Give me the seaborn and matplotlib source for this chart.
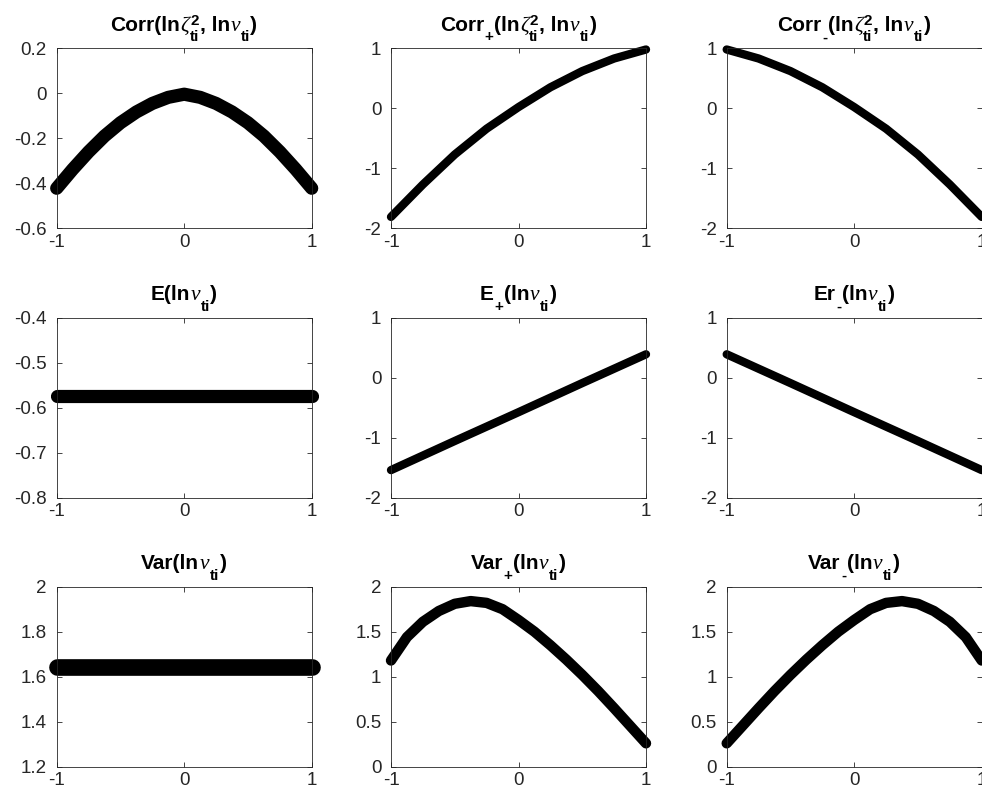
import matplotlib
matplotlib.use("Agg")
import matplotlib.pyplot as plt
from matplotlib.transforms import IdentityTransform
import seaborn as sns

# ---------------- data ----------------
x17 = [-1.0, -0.875, -0.75, -0.625, -0.5, -0.375, -0.25, -0.125, 0.0,
       0.125, 0.25, 0.375, 0.5, 0.625, 0.75, 0.875, 1.0]
x9 = [-1.0, -0.75, -0.5, -0.25, 0.0, 0.25, 0.5, 0.75, 1.0]
x5 = [-1.0, -0.5, 0.0, 0.5, 1.0]

corr = [-0.422, -0.338, -0.26, -0.19, -0.131, -0.083, -0.045, -0.018, -0.004,
        -0.018, -0.045, -0.083, -0.131, -0.19, -0.26, -0.338, -0.422]
corr_plus = [-1.81, -1.27, -0.77, -0.34, 0.02, 0.35, 0.62, 0.83, 0.98]
corr_minus = [0.98, 0.83, 0.62, 0.35, 0.02, -0.34, -0.77, -1.27, -1.81]

e_mean = [-0.575, -0.575, -0.575, -0.575, -0.575]
e_plus = [-1.54, -1.055, -0.575, -0.09, 0.39]
er_minus = [0.39, -0.09, -0.575, -1.055, -1.54]

var = [1.644, 1.644, 1.644, 1.644, 1.644]
var_plus = [1.18, 1.44, 1.61, 1.73, 1.81, 1.84, 1.82, 1.75, 1.63,
            1.50, 1.35, 1.19, 1.02, 0.84, 0.65, 0.455, 0.26]
var_minus = [0.26, 0.455, 0.65, 0.84, 1.02, 1.19, 1.35, 1.50, 1.63,
             1.75, 1.82, 1.84, 1.81, 1.73, 1.61, 1.44, 1.18]

# title pieces: (kind, text); kinds: n=normal bold, g=greek, sub, supsub
title_parts = [
    [("n", "Corr(ln"), ("g", "ζ"), ("supsub", ("2", "ti")), ("n", ", ln"), ("g", "ν"), ("sub", "ti"), ("n", ")")],
    [("n", "Corr"), ("sub", "+"), ("n", "(ln"), ("g", "ζ"), ("supsub", ("2", "ti")), ("n", ", ln"), ("g", "ν"), ("sub", "ti"), ("n", ")")],
    [("n", "Corr"), ("sub", "-"), ("n", "(ln"), ("g", "ζ"), ("supsub", ("2", "ti")), ("n", ", ln"), ("g", "ν"), ("sub", "ti"), ("n", ")")],
    [("n", "E(ln"), ("g", "ν"), ("sub", "ti"), ("n", ")")],
    [("n", "E"), ("sub", "+"), ("n", "(ln"), ("g", "ν"), ("sub", "ti"), ("n", ")")],
    [("n", "Er"), ("sub", "-"), ("n", "(ln"), ("g", "ν"), ("sub", "ti"), ("n", ")")],
    [("n", "Var(ln"), ("g", "ν"), ("sub", "ti"), ("n", ")")],
    [("n", "Var"), ("sub", "+"), ("n", "(ln"), ("g", "ν"), ("sub", "ti"), ("n", ")")],
    [("n", "Var"), ("sub", "-"), ("n", "(ln"), ("g", "ν"), ("sub", "ti"), ("n", ")")],
]

xticks = [-1, 0, 1]
xticklabels = ["-1", "0", "1"]

yt_corr = [-0.6, -0.4, -0.2, 0.0, 0.2]
yl_corr = ["-0.6", "-0.4", "-0.2", "0", "0.2"]
yt_pm = [-2, -1, 0, 1]
yl_pm = ["-2", "-1", "0", "1"]
yt_e = [-0.8, -0.7, -0.6, -0.5, -0.4]
yl_e = ["-0.8", "-0.7", "-0.6", "-0.5", "-0.4"]
yt_var = [1.2, 1.4, 1.6, 1.8, 2.0]
yl_var = ["1.2", "1.4", "1.6", "1.8", "2"]
yt_varpm = [0, 0.5, 1, 1.5, 2]
yl_varpm = ["0", "0.5", "1", "1.5", "2"]

panels = [
    (x17, corr, (-0.6, 0.2), yt_corr, yl_corr, 9.5),
    (x9, corr_plus, (-2, 1), yt_pm, yl_pm, 6),
    (x9, corr_minus, (-2, 1), yt_pm, yl_pm, 6),
    (x5, e_mean, (-0.8, -0.4), yt_e, yl_e, 9.5),
    (x5, e_plus, (-2, 1), yt_pm, yl_pm, 6),
    (x5, er_minus, (-2, 1), yt_pm, yl_pm, 6),
    (x5, var, (1.2, 2.0), yt_var, yl_var, 12),
    (x17, var_plus, (0, 2), yt_varpm, yl_varpm, 7.5),
    (x17, var_minus, (0, 2), yt_varpm, yl_varpm, 7.5),
]

# ---------------- style ----------------
sns.set_style("ticks")
plt.rcParams.update({
    "font.family": ["Liberation Sans", "DejaVu Sans"],
    "axes.unicode_minus": False,
    "axes.edgecolor": "#262626",
    "axes.linewidth": 0.6,
    "xtick.color": "#262626",
    "ytick.color": "#262626",
    "xtick.direction": "in",
    "ytick.direction": "in",
    "xtick.top": True,
    "ytick.right": True,
    "xtick.major.size": 3.5,
    "ytick.major.size": 3.5,
    "xtick.major.width": 0.6,
    "ytick.major.width": 0.6,
})

W, H = 982, 794
fig = plt.figure(figsize=(W / 100, H / 100), dpi=100)

lefts = [56.7, 391.0, 726.7]
tops = [48.3, 317.7, 586.7]
aw, ah = 255.0, 180.0

STY = {
    "n": dict(fontsize=15, fontweight="bold", family=["Liberation Sans", "DejaVu Sans"]),
    "g": dict(fontsize=15.5, fontstyle="italic", family=["Liberation Serif", "DejaVu Serif"]),
    "s": dict(fontsize=11, fontweight="bold", family=["Liberation Sans", "DejaVu Sans"]),
}
SUB_DY = -10.5
SUP_DY = 6.0


def rich_title(ax, parts):
    renderer = fig.canvas.get_renderer()
    bb = ax.get_window_extent(renderer)
    cx = (bb.x0 + bb.x1) / 2
    base = bb.y1 + 17.5
    groups = []
    x = 0.0
    for kind, s in parts:
        if kind == "n":
            items = [(s, STY["n"], 0.0)]
        elif kind == "g":
            items = [(s, STY["g"], 0.0)]
        elif kind == "sub":
            items = [(s, STY["s"], SUB_DY)]
        else:
            items = [(s[0], STY["s"], SUP_DY), (s[1], STY["s"], SUB_DY)]
        arts = []
        wmax = 0.0
        for txt, kw, dy in items:
            t = fig.text(0, 0, txt, transform=IdentityTransform(),
                         ha="left", va="baseline", color="black", **kw)
            w = t.get_window_extent(renderer).width
            wmax = max(wmax, w)
            arts.append((t, dy))
        groups.append((arts, x))
        x += wmax + 0.5
    start = cx - x / 2
    for arts, gx in groups:
        for t, dy in arts:
            t.set_position((start + gx, base + dy))


axes = []
for i, (xs, ys, ylim, yt, yl, lw) in enumerate(panels):
    r, c = divmod(i, 3)
    ax = fig.add_axes([lefts[c] / W, 1 - (tops[r] + ah) / H, aw / W, ah / H])
    sns.lineplot(x=xs, y=ys, ax=ax, color="black", linewidth=lw,
                 solid_capstyle="round", solid_joinstyle="round",
                 clip_on=False, zorder=3)
    ax.set_xlim(-1, 1)
    ax.set_ylim(*ylim)
    ax.set_xticks(xticks)
    ax.set_xticklabels(xticklabels, fontsize=13.5, color="#262626")
    ax.set_yticks(yt)
    ax.set_yticklabels(yl, fontsize=13.5, color="#262626")
    ax.tick_params(axis="x", pad=4)
    ax.tick_params(axis="y", pad=7)
    for s in ax.spines.values():
        s.set_visible(True)
        s.set_zorder(4)
    ax.set_xlabel("")
    ax.set_ylabel("")
    axes.append(ax)

for ax, parts in zip(axes, title_parts):
    rich_title(ax, parts)

fig.savefig("out.png", dpi=100)
